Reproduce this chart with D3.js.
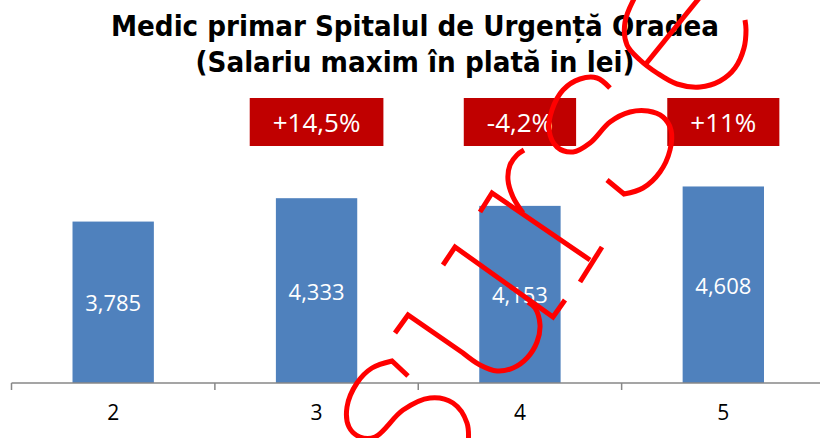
<!DOCTYPE html>
<html>
<head>
<meta charset="utf-8">
<script src="https://cdn.jsdelivr.net/npm/d3@7"></script>
<style>
  html, body { margin: 0; padding: 0; background: #fff; }
  svg { display: block; }
</style>
</head>
<body>
<svg id="chart" width="820" height="438"></svg>
<script>
// ---- data ----
const titleLines = ["Medic primar Spitalul de Urgență Oradea", "(Salariu maxim în plată in lei)"];
const categories = ["2", "3", "4", "5"];
const salaries = [3785, 4333, 4153, 4608];
const changeCategories = ["3", "4", "5"];
const changeLabels = ["+14,5%", "-4,2%", "+11%"];
const watermarkText = "Surse";

// ---- layout ----
const W = 820, H = 438;
const svg = d3.select("#chart");

const x = d3.scaleBand().domain(categories).range([11.5, 825]).padding(0);
const y = d3.scaleLinear().domain([0, 5000]).range([383, 169.75]);
const barW = x.bandwidth() * 0.4;

// title
svg.append("g").selectAll("text").data(titleLines).join("text")
  .attr("x", 415)
  .attr("y", (d, i) => 36 + i * 36)
  .attr("text-anchor", "middle")
  .attr("font-family", "'DejaVu Sans Condensed', 'DejaVu Sans', sans-serif")
  .attr("font-weight", "bold")
  .attr("font-size", 29)
  .attr("fill", "#000")
  .attr("textLength", (d, i) => i === 0 ? 608 : 439)
  .attr("lengthAdjust", "spacingAndGlyphs")
  .text(d => d);

// bars
svg.append("g").selectAll("rect").data(categories).join("rect")
  .attr("x", d => x(d) + (x.bandwidth() - barW) / 2)
  .attr("y", (d, i) => y(salaries[i]))
  .attr("width", barW)
  .attr("height", (d, i) => y(0) - y(salaries[i]))
  .attr("fill", "#4F81BD");

// value labels
const fmt = d3.format(",");
svg.append("g").selectAll("text").data(categories).join("text")
  .attr("x", d => x(d) + x.bandwidth() / 2)
  .attr("y", (d, i) => (y(salaries[i]) + y(0)) / 2)
  .attr("text-anchor", "middle")
  .attr("dominant-baseline", "central")
  .attr("font-family", "'Open Sans', sans-serif")
  .attr("font-size", 22)
  .attr("fill", "#fff")
  .text((d, i) => fmt(salaries[i]));

// axis
const axisG = svg.append("g").attr("transform", `translate(0,${y(0)})`);
axisG.append("line")
  .attr("x1", x.range()[0]).attr("x2", W)
  .attr("stroke", "#878787").attr("stroke-width", 1.5);
axisG.selectAll("line.tick").data(categories.concat(["end"])).join("line")
  .attr("class", "tick")
  .attr("x1", (d, i) => x.range()[0] + i * x.step())
  .attr("x2", (d, i) => x.range()[0] + i * x.step())
  .attr("y1", 0).attr("y2", 7)
  .attr("stroke", "#878787").attr("stroke-width", 1.5);
axisG.selectAll("text").data(categories).join("text")
  .attr("x", d => x(d) + x.bandwidth() / 2)
  .attr("y", 29)
  .attr("text-anchor", "middle")
  .attr("dominant-baseline", "central")
  .attr("font-family", "'Open Sans', sans-serif")
  .attr("font-size", 21)
  .attr("fill", "#000")
  .text(d => d);

// change boxes
const boxG = svg.append("g");
changeCategories.forEach((c, i) => {
  const cx = x(c) + x.bandwidth() / 2;
  const g = boxG.append("g");
  const rect = g.append("rect").attr("fill", "#C00000");
  const t = g.append("text")
    .attr("x", cx).attr("y", 122)
    .attr("text-anchor", "middle")
    .attr("dominant-baseline", "central")
    .attr("font-family", "'Open Sans', sans-serif")
    .attr("font-size", 26)
    .attr("fill", "#fff")
    .text(changeLabels[i]);
  const tw = t.node().getComputedTextLength();
  const bw = tw + 46;
  rect.attr("x", cx - bw / 2).attr("y", 98).attr("width", bw).attr("height", 48);
});

// handwritten red watermark "Surse" overlay
const wmStrokes = [
  { pre: [[408,376]], curve: [[392,361],[372,368],[357,383],[347,407],[349,427],[360,437],[375,437],[403,410],[430,398],[453,403],[467,423],[468,446]] },
  { pre: [[395,333],[408,315]], curve: [[463,353],[480,365],[497,371],[513,368],[527,358],[537,342],[540,325],[535,308],[528,302]] },
  { pre: [[443,265],[455,247],[553,317],[565,300]], curve: [] },
  { pre: [[480,212],[492,193],[590,260]], curve: [] },
  { pre: [[580,282],[602,247]], curve: [] },
  { pre: [], curve: [[523,213],[513,197],[508,180],[510,165],[517,155],[524,150]] },
  { pre: [[607,180]], curve: [[624,194],[643,188],[660,172],[670,150],[671,130],[663,117],[648,111],[630,112],[610,122],[590,143],[573,152],[557,147],[549,130],[552,110],[563,90],[580,79],[597,78],[610,88]] },
  { pre: [], curve: [[636,-5],[625,22],[627,45],[640,60],[657,73],[677,84],[700,87],[720,81],[735,68],[744,48],[746,30],[745,20]] },
  { pre: [[645,65],[700,-3]], curve: [] }
];
const lin = d3.line().curve(d3.curveLinear);
const cur = d3.line().curve(d3.curveCatmullRom.alpha(0.5));
const wm = svg.append("g").attr("class", "watermark").attr("aria-label", watermarkText);
wmStrokes.forEach(s => {
  let d = "";
  if (s.pre.length) d = lin(s.pre.length > 1 ? s.pre : s.pre.concat([s.curve[0]]));
  if (s.curve.length) {
    const c = cur(s.curve);
    d += d ? c.replace(/^M/, "L") : c;
  }
  wm.append("path").attr("d", d)
    .attr("fill", "none").attr("stroke", "#FF0000")
    .attr("stroke-width", 5).attr("stroke-linejoin", "miter").attr("stroke-linecap", "butt");
});
</script>
</body>
</html>
